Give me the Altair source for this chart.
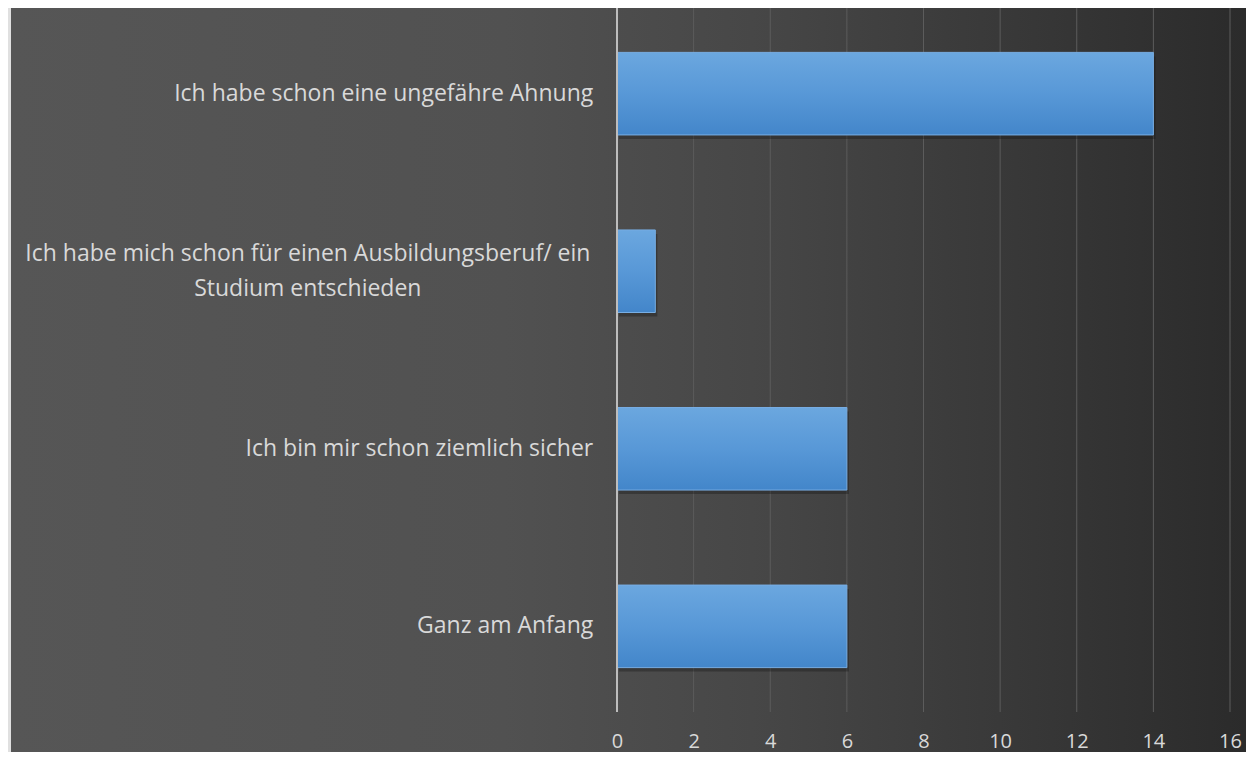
import altair as alt
import pandas as pd

categories = [
    "Ich habe schon eine ungefähre Ahnung",
    "Ich habe mich schon für einen Ausbildungsberuf/ ein Studium entschieden",
    "Ich bin mir schon ziemlich sicher",
    "Ganz am Anfang",
]
label_lines = [
    "Ich habe schon eine ungefähre Ahnung",
    "Ich habe mich schon für einen Ausbildungsberuf/ ein\nStudium entschieden",
    "Ich bin mir schon ziemlich sicher",
    "Ganz am Anfang",
]
values = [14, 1, 6, 6]
x_ticks = [0, 2, 4, 6, 8, 10, 12, 14, 16]
grid_values = [2, 4, 6, 8, 10, 12, 14, 16]

df = pd.DataFrame({
    "category": categories,
    "label": label_lines,
    "value": values,
    "multi": ["\n" in s for s in label_lines],
})
grid_df = pd.DataFrame({"g": grid_values})
zero_df = pd.DataFrame({"g": [0]})

XDOM = alt.Scale(domain=[0, 16])
YSC = alt.Scale(paddingInner=0.535, paddingOuter=0.25)
FONT = "Open Sans"
TXT = "#d9d9d9"
FS = 23

bg = alt.Chart(alt.Data(values=[{}])).mark_rect(
    color=alt.Gradient(
        gradient="linear", x1=0, x2=1, y1=0, y2=0,
        stops=[
            alt.GradientStop(color="#565656", offset=0),
            alt.GradientStop(color="#515151", offset=0.4),
            alt.GradientStop(color="#474747", offset=0.6),
            alt.GradientStop(color="#2b2b2b", offset=1),
        ],
    )
).encode(x=alt.value(-606), x2=alt.value(629), y=alt.value(0), y2=alt.value(744))

grid = alt.Chart(grid_df).mark_rule(color="#5c5c5c", strokeWidth=1).encode(
    x=alt.X("g:Q", scale=XDOM, title=None),
    y=alt.value(0), y2=alt.value(704),
)

shadow = alt.Chart(df).mark_bar(color="#151515", opacity=0.35, yOffset=4, xOffset=2).encode(
    x=alt.X("value:Q", scale=XDOM, title=None),
    y=alt.Y("category:N", sort=categories, axis=None, scale=YSC),
)

bars = alt.Chart(df).mark_bar(
    color=alt.Gradient(
        gradient="linear", x1=0, x2=0, y1=0, y2=1,
        stops=[
            alt.GradientStop(color="#6ba7df", offset=0),
            alt.GradientStop(color="#5898d7", offset=0.5),
            alt.GradientStop(color="#4386ca", offset=1),
        ],
    ),
    stroke="#78aee3", strokeWidth=1,
).encode(
    x=alt.X("value:Q", scale=XDOM, title=None,
            axis=alt.Axis(values=x_ticks, grid=False, ticks=False, domain=False,
                          labelColor=TXT, labelFont=FONT, labelFontSize=20,
                          labelPadding=19, zindex=1, labelFlush=False)),
    y=alt.Y("category:N", sort=categories, axis=None, scale=YSC),
)

zero = alt.Chart(zero_df).mark_rule(color="#bdbdbd", strokeWidth=2).encode(
    x=alt.X("g:Q", scale=XDOM, title=None),
    y=alt.value(0), y2=alt.value(704),
)

labels_single = alt.Chart(df).transform_filter("!datum.multi").mark_text(
    align="right", baseline="middle", font=FONT, fontSize=FS, color=TXT
).encode(
    x=alt.XDatum(-0.62, scale=XDOM, title=None),
    y=alt.Y("category:N", sort=categories, axis=None, scale=YSC),
    text="label:N",
)

labels_multi = alt.Chart(df).transform_filter("datum.multi").mark_text(
    align="center", baseline="middle", font=FONT, fontSize=FS, color=TXT,
    lineBreak="\n", lineHeight=35, dy=-17,
).encode(
    x=alt.XDatum(-8.07, scale=XDOM, title=None),
    y=alt.Y("category:N", sort=categories, axis=None, scale=YSC),
    text="label:N",
)

chart = alt.layer(bg, grid, shadow, bars, zero, labels_single, labels_multi).properties(
    width=613, height=704,
    autosize=alt.AutoSizeParams(type="none"),
    padding={"left": 609, "top": 0, "right": 16, "bottom": 40},
    background="#e0e0e0",
).configure_view(stroke=None)

chart.save("out.html", embed_options={"renderer": "svg", "actions": False})
